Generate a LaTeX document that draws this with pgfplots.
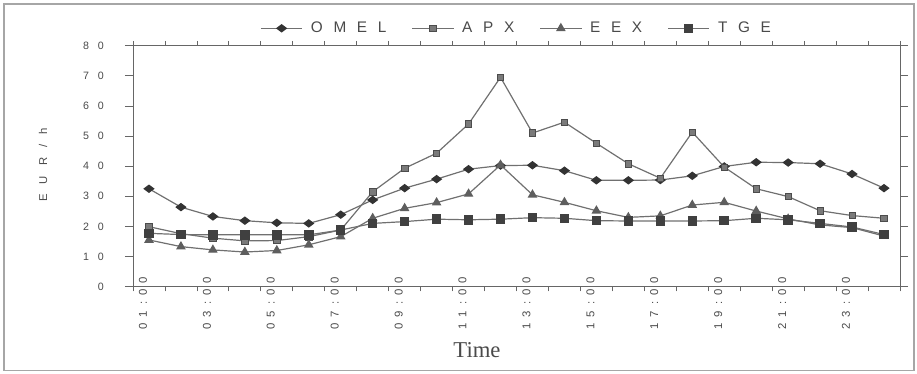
\documentclass[border=0pt]{standalone}
\usepackage{fontspec}
\setmainfont{Liberation Sans}
\newfontfamily\timesfont{Liberation Serif}
\usepackage{pgfplots}
\pgfplotsset{compat=1.18}
\definecolor{lc}{HTML}{707070}
\definecolor{tc}{HTML}{4A4A4A}
\definecolor{omelc}{HTML}{333333}
\definecolor{apxc}{HTML}{7A7A7A}
\definecolor{eexc}{HTML}{5E5E5E}
\definecolor{tgec}{HTML}{404040}
\def\xk{4.5pt}
\def\xlab#1#2{#1\kern\xk #2\kern\xk :\kern\xk 0\kern\xk 0}
\def\ylab#1{#1\kern6.6pt 0}
\def\lk{8pt}
\begin{document}
\begin{tikzpicture}
\useasboundingbox (-99.75pt,-65.5pt) rectangle (588pt,215pt);
\draw[color=gray!70, line width=0.8pt] (-96.75pt,-63.2pt) rectangle (585.75pt,212pt);
\begin{axis}[
  at={(0pt,0pt)}, anchor=south west, scale only axis,
  width=575.25pt, height=180.75pt,
  xmin=0.5, xmax=24.5, ymin=0, ymax=80,
  axis line style={color=gray!80!black, line width=0.6pt},
  tick align=outside,
  major tick length=6pt, minor tick length=3.5pt,
  xtick={1,3,...,23},
  xticklabels={\xlab01,\xlab03,\xlab05,\xlab07,\xlab09,\xlab11,\xlab13,\xlab15,\xlab17,\xlab19,\xlab21,\xlab23},
  major x tick style={draw=none},
  minor xtick={0.5,1.5,...,24.5},
  minor x tick style={color=gray!80!black, line width=0.6pt},
  ytick={0,10,...,80},
  yticklabels={0,\ylab1,\ylab2,\ylab3,\ylab4,\ylab5,\ylab6,\ylab7,\ylab8},
  y tick style={color=gray!80!black, line width=0.6pt},
  xticklabel style={rotate=90, anchor=east, inner sep=0pt, yshift=4.5pt, font=\fontsize{8.5}{9}\selectfont, text=tc},
  xticklabel shift=-13.3pt,
  yticklabel style={anchor=east, inner sep=0pt, font=\fontsize{8}{9}\selectfont, text=tc},
  yticklabel shift=15.75pt,
  xlabel={\timesfont Time},
  xlabel style={at={(axis description cs:0.4485,-0.263)}, anchor=center, font=\fontsize{17}{19}\selectfont, text=tc},
  ylabel={E\kern7.5pt U\kern7.5pt R\kern7.5pt /\kern7.5pt h},
  ylabel style={at={(axis description cs:-0.1173,0.505)}, anchor=center, font=\fontsize{8.5}{10}\selectfont, text=tc},
  every axis plot/.append style={color=lc, line width=0.9pt},
  legend columns=-1,
  legend style={draw=none, fill=none, at={(axis description cs:0.5006,1.0720)}, anchor=center,
    font=\fontsize{11.5}{13}\selectfont, text=tc,
    /tikz/every odd column/.append style={column sep=4pt},
    /tikz/every even column/.append style={column sep=17pt}},
  legend image code/.code={\draw[mark repeat=2,mark phase=2,#1] plot coordinates {(0pt,0pt) (15.5pt,0pt) (31pt,0pt)};},
]
\addplot[mark=diamond*, mark size=3.5pt, mark options={rotate=90, fill=omelc, draw=omelc, solid}] coordinates {
(1,32.5) (2,26.4) (3,23.3) (4,21.9) (5,21.2) (6,21.0) (7,23.9) (8,28.8) (9,32.7) (10,35.7) (11,39.0) (12,40.2)
(13,40.3) (14,38.5) (15,35.3) (16,35.3) (17,35.4) (18,36.8) (19,39.9) (20,41.3) (21,41.2) (22,40.8) (23,37.4) (24,32.7)};
\addlegendentry{O\kern\lk M\kern\lk E\kern\lk L}
\addplot[mark=square*, mark size=2.4pt, mark options={fill=apxc, draw=gray!60!black, line width=0.5pt, solid}] coordinates {
(1,19.9) (2,17.6) (3,16.1) (4,15.2) (5,15.3) (6,16.6) (7,18.8) (8,31.5) (9,39.3) (10,44.3) (11,54.0) (12,69.5)
(13,51.0) (14,54.6) (15,47.6) (16,40.8) (17,36.0) (18,51.3) (19,39.7) (20,32.5) (21,29.9) (22,25.2) (23,23.6) (24,22.7)};
\addlegendentry{A\kern\lk P\kern\lk X}
\addplot[mark=triangle*, mark size=3.3pt, mark options={fill=eexc, draw=eexc, solid}] coordinates {
(1,15.5) (2,13.3) (3,12.2) (4,11.5) (5,12.0) (6,13.9) (7,16.6) (8,22.7) (9,26.0) (10,27.9) (11,30.8) (12,40.4)
(13,30.5) (14,28.0) (15,25.2) (16,23.0) (17,23.5) (18,27.1) (19,28.0) (20,25.1) (21,22.5) (22,20.5) (23,19.6) (24,16.8)};
\addlegendentry{E\kern\lk E\kern\lk X}
\addplot[mark=square*, mark size=3.1pt, mark options={fill=tgec, draw=tgec, solid}] coordinates {
(1,17.7) (2,17.3) (3,17.2) (4,17.2) (5,17.2) (6,17.2) (7,18.8) (8,21.0) (9,21.6) (10,22.4) (11,22.2) (12,22.4)
(13,22.9) (14,22.7) (15,21.9) (16,21.8) (17,21.8) (18,21.8) (19,21.9) (20,22.7) (21,22.2) (22,21.0) (23,19.8) (24,17.3)};
\addlegendentry{T\kern\lk G\kern\lk E}
\end{axis}
\end{tikzpicture}
\end{document}
